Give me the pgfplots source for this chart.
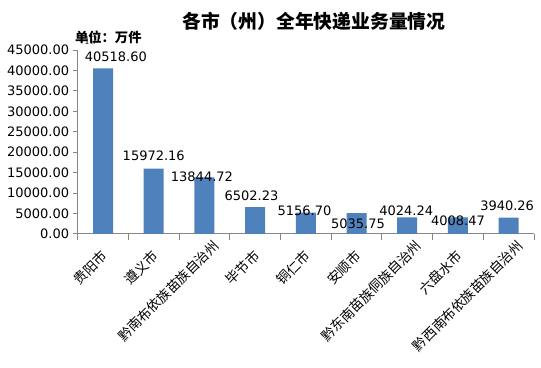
\documentclass[border=0pt]{standalone}
\usepackage{fontspec}
\setmainfont{DejaVu Sans}
\newfontfamily\cjk{Noto Sans CJK SC}
\usepackage{pgfplots}
\usepackage{pgfplotstable}
\pgfplotsset{compat=1.18}
\definecolor{barblue}{HTML}{4F81BD}
\definecolor{axgray}{HTML}{868686}
\pgfplotstableread{
x y dx dy lab
0 40518.60 12.8 12 40518.60
1 15972.16 0 12.4 15972.16
2 13844.72 -2.5 0.7 13844.72
3 6502.23 -3.7 11.4 6502.23
4 5156.70 -1.3 1.9 5156.70
5 5035.75 1.5 -10.9 5035.75
6 4024.24 -1 6.5 4024.24
7 4008.47 0 -3.7 4008.47
8 3940.26 -1.5 12.1 3940.26
}\datatable
\begin{document}
\begin{tikzpicture}[x=1pt,y=1pt]
\useasboundingbox (0,0) rectangle (541,367);
\begin{axis}[
  at={(77.7pt,133.2pt)}, anchor=south west,
  scale only axis, width=456.3pt, height=183.8pt,
  xmin=-0.5, xmax=8.5, ymin=0, ymax=45000,
  axis x line*=bottom, axis y line*=left,
  axis line style={axgray, line width=0.8pt, -},
  tick align=outside,
  xtick={0,...,8},
  xticklabels={贵阳市,遵义市,黔南布依族苗族自治州,毕节市,铜仁市,安顺市,黔东南苗族侗族自治州,六盘水市,黔西南布依族苗族自治州},
  major x tick style={draw=none},
  minor xtick={-0.5,0.5,...,8.5},
  minor x tick style={axgray, line width=0.8pt},
  minor tick length=6pt,
  major tick length=5pt,
  major y tick style={axgray, line width=0.8pt},
  x tick label style={font=\cjk\fontsize{13.5}{14}\selectfont, rotate=45, anchor=east,
     xshift={{-5.5,-5.5,8.5,-5.5,-5.5,-5.5,8.5,-5.5,8.5}[\ticknum]}, yshift=-11.5pt},
  ytick={0,5000,...,45000},
  yticklabels={0.00,5000.00,10000.00,15000.00,20000.00,25000.00,30000.00,35000.00,40000.00,45000.00},
  y tick label style={font=\fontsize{13}{14}\selectfont},
  /pgf/number format/assume math mode=true,
  clip=false,
]
\addplot[ybar, bar width=20pt, fill=barblue, draw=none,
  visualization depends on={\thisrow{dx}\as\dx},
  visualization depends on={\thisrow{dy}\as\dy},
  point meta=explicit symbolic,
  nodes near coords,
  every node near coord/.append style={anchor=center, xshift=\dx pt, yshift=\dy pt, font=\fontsize{13}{14}\selectfont, text=black, inner sep=0pt},
] table[x=x, y=y, meta=lab] {\datatable};
\end{axis}
\node[font=\cjk\bfseries\fontsize{18.8}{20}\selectfont] at (313.8,345.5) {各市（州）全年快递业务量情况};
\node[font=\cjk\bfseries\fontsize{13.3}{14}\selectfont] at (108.3,330) {单位：万件};
\end{tikzpicture}
\end{document}
